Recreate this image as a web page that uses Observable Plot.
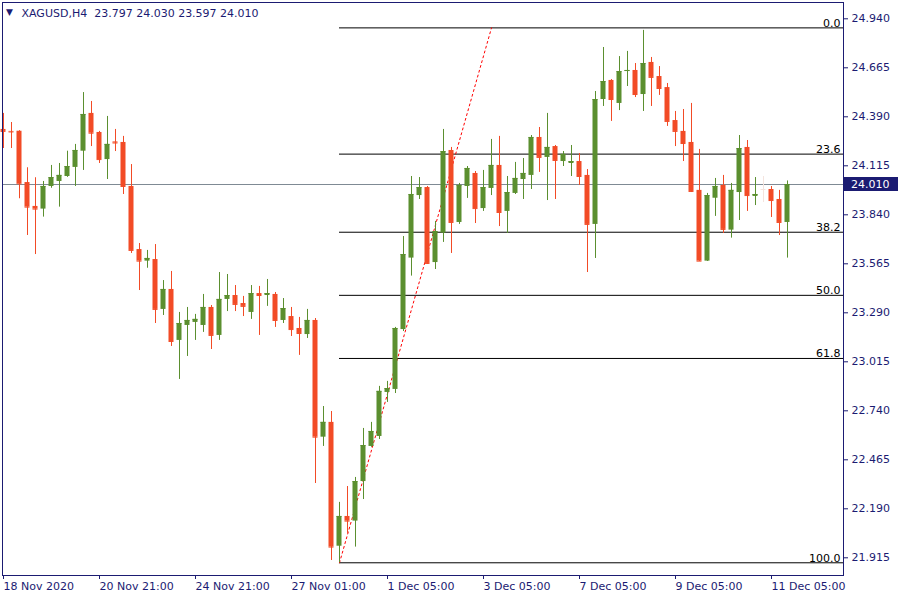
<!DOCTYPE html>
<html>
<head>
<meta charset="utf-8">
<script src="https://cdn.jsdelivr.net/npm/d3@7"></script>
<script src="https://cdn.jsdelivr.net/npm/@observablehq/plot@0.6"></script>
<style>
  html, body { margin: 0; padding: 0; background: #ffffff; }
  #chart svg { display: block; }
</style>
</head>
<body>
<div id="chart"></div>
<script>
// ---------- data ----------
const symbol = "XAGUSD";
const timeframe = "H4";

const opens = [24.319,24.308,24.309,24.021,23.887,23.872,23.999,24.027,24.055,24.106,
  24.197,24.409,24.302,24.150,24.249,24.246,23.999,23.645,23.580,23.589,
  23.309,23.421,23.135,23.219,23.236,23.219,23.320,23.163,23.365,23.387,
  23.342,23.292,23.398,23.387,23.393,23.247,23.269,23.202,23.168,23.247,
  22.592,22.675,21.980,22.147,22.121,22.343,22.540,22.596,22.843,22.860,
  23.196,23.597,23.948,23.993,23.572,23.737,24.201,23.797,23.999,24.072,
  23.875,23.988,24.117,23.859,23.960,24.038,24.061,24.274,24.162,24.223,
  24.139,24.128,24.139,24.061,23.786,24.487,24.594,24.465,24.644,24.650,
  24.515,24.695,24.616,24.554,24.369,24.308,24.246,23.977,23.580,23.933,
  24.005,23.754,23.965,24.218,23.943,23.982,23.982,23.926,23.797];

const highs = [24.409,24.358,24.312,24.104,24.048,24.027,24.117,24.128,24.197,24.235,
  24.526,24.476,24.308,24.392,24.319,24.280,24.122,23.679,23.640,23.673,
  23.471,23.522,23.292,23.320,23.281,23.393,23.331,23.516,23.505,23.443,
  23.382,23.443,23.438,23.477,23.404,23.370,23.320,23.264,23.309,23.258,
  22.764,22.736,22.226,22.315,22.366,22.641,22.675,22.877,22.905,23.208,
  23.718,24.055,24.049,23.999,23.803,24.319,24.218,24.016,24.111,24.083,
  24.089,24.263,24.280,24.055,24.134,24.156,24.285,24.330,24.409,24.229,
  24.195,24.229,24.184,24.094,24.532,24.779,24.599,24.728,24.757,24.689,
  24.875,24.723,24.672,24.577,24.420,24.431,24.465,24.207,23.960,24.044,
  24.061,24.016,24.285,24.257,24.049,24.055,23.999,23.977,24.030];

const lows = [24.212,24.212,23.930,23.724,23.617,23.827,23.989,23.883,24.050,23.999,
  24.089,24.223,24.128,24.038,24.195,23.954,23.623,23.415,23.540,23.230,
  23.275,23.101,22.916,23.045,23.135,23.180,23.084,23.135,23.297,23.297,
  23.269,23.253,23.163,23.326,23.208,23.230,23.157,23.051,23.146,22.332,
  22.540,21.900,21.887,22.052,21.975,22.242,22.535,22.579,22.787,22.837,
  23.185,23.496,23.926,23.561,23.533,23.685,23.623,23.786,23.932,23.791,
  23.859,23.948,23.774,23.735,23.954,23.926,23.982,24.078,23.920,23.926,
  24.111,24.055,24.005,23.516,23.595,24.448,24.364,24.425,24.560,24.498,
  24.420,24.448,24.510,24.336,24.223,24.139,23.965,23.578,23.578,23.831,
  23.735,23.709,23.808,23.859,23.892,23.909,23.825,23.724,23.597];

const closes = [24.308,24.305,24.014,23.883,23.872,23.999,24.049,24.061,24.111,24.201,
  24.403,24.298,24.150,24.235,24.243,23.999,23.640,23.580,23.595,23.309,
  23.421,23.129,23.230,23.247,23.253,23.320,23.163,23.365,23.387,23.337,
  23.326,23.398,23.387,23.398,23.247,23.314,23.196,23.174,23.247,22.592,
  22.675,21.975,22.147,22.121,22.343,22.545,22.624,22.849,22.865,23.202,
  23.617,23.954,23.993,23.567,23.746,24.195,23.797,24.005,24.100,23.875,
  23.993,24.117,23.853,23.965,24.044,24.072,24.274,24.162,24.218,24.145,
  24.179,24.139,24.055,23.786,24.487,24.588,24.487,24.644,24.650,24.515,
  24.689,24.611,24.549,24.364,24.308,24.240,23.971,23.580,23.948,23.999,
  23.758,23.977,24.212,23.948,23.954,23.982,23.920,23.797,24.010];

const ghostBars = [95];

const xTickBars = [0, 12, 24, 36, 48, 60, 72, 84, 96];
const xTickLabels = ["18 Nov 2020", "20 Nov 21:00", "24 Nov 21:00", "27 Nov 01:00",
  "1 Dec 05:00", "3 Dec 05:00", "7 Dec 05:00", "9 Dec 05:00", "11 Dec 05:00"];

const yTicks = [24.940, 24.665, 24.390, 24.115, 23.840, 23.565, 23.290, 23.015,
  22.740, 22.465, 22.190, 21.915];

const fibLevels = [0, 23.6, 38.2, 50, 61.8, 100];
const fibHigh = 24.889;
const fibLow = 21.887;
const fibLowBar = 42;
const fibHighBar = 61;

// ---------- layout / style ----------
const W = 900, H = 600;
const M = {left: 2, top: 2, right: 57, bottom: 25};
const xDomain = [0, 105];
const xRange = [3, W - M.right];
const yDomain = [21.915, 24.940];
const yRange = [557.3, 18.3];
const halfBody = 0.3125;
const navy = "#1b1b72";
const colors = {up: "#5b8f2f", down: "#f24b26", ghost: "#f4e4de"};

const bars = opens.map((o, i) => ({
  i, open: o, high: highs[i], low: lows[i], close: closes[i],
  kind: ghostBars.includes(i) ? "ghost" : (closes[i] >= o ? "up" : "down")
}));
const last = bars[bars.length - 1];
const fib = fibLevels.map(l => ({level: l, price: fibHigh - l / 100 * (fibHigh - fibLow)}));
const fmt = d3.format(".3f");
const title = `${symbol},${timeframe}\u00a0\u00a0${fmt(last.open)} ${fmt(last.high)} ${fmt(last.low)} ${fmt(last.close)}`;

const chart = Plot.plot({
  width: W, height: H,
  marginLeft: M.left, marginTop: M.top, marginRight: M.right, marginBottom: M.bottom,
  style: {fontFamily: "'DejaVu Sans', sans-serif", fontSize: "11px", color: navy, background: "#ffffff"},
  x: {type: "linear", domain: xDomain, range: xRange},
  y: {type: "linear", domain: yDomain, range: yRange},
  marks: [
    Plot.ruleY([last.close], {stroke: "#7f8a94", strokeWidth: 1}),
    Plot.ruleY(fib, {y: "price", x1: fibLowBar, x2: xDomain[1], stroke: "#000000", strokeWidth: 1}),
    Plot.text(fib, {y: "price", text: d => d.level.toFixed(1), frameAnchor: "right",
      textAnchor: "end", lineAnchor: "bottom", dx: -3, dy: -1, fill: "#000000"}),
    Plot.line([{i: fibLowBar, p: fibLow}, {i: fibHighBar, p: fibHigh}],
      {x: "i", y: "p", stroke: "#ff0000", strokeWidth: 1, strokeDasharray: "2,3"}),
    Plot.ruleX(bars, {x: "i", y1: "low", y2: "high", stroke: d => colors[d.kind], strokeWidth: 1}),
    Plot.rect(bars, {x1: d => d.i - halfBody, x2: d => d.i + halfBody, y1: "open", y2: "close",
      fill: d => colors[d.kind]}),
    Plot.ruleY(bars, {y: "close", x1: d => d.i - halfBody, x2: d => d.i + halfBody,
      stroke: d => colors[d.kind], strokeWidth: 1}),
    Plot.frame({stroke: navy}),
    Plot.axisX({ticks: xTickBars, tickFormat: d => xTickLabels[xTickBars.indexOf(d)],
      textAnchor: "start", tickSize: 4, tickPadding: 3, label: null}),
    Plot.axisY({anchor: "right", ticks: yTicks, tickFormat: fmt, tickSize: 4, tickPadding: 4, label: null}),
    Plot.text([title], {text: d => d, frameAnchor: "top-left", dx: 19, dy: 11,
      textAnchor: "start", lineAnchor: "middle", fill: navy}),
    Plot.text(["\u25BC"], {text: d => d, frameAnchor: "top-left", dx: 7, dy: 10,
      textAnchor: "middle", lineAnchor: "middle", fill: navy, fontSize: 9})
  ]
});

// current price tag on the price axis
const yScale = chart.scale("y");
const yy = yScale.apply(last.close);
const svg = d3.select(chart);
const tag = svg.append("g");
tag.append("rect")
  .attr("x", W - M.right + 1).attr("y", Math.round(yy) - 7)
  .attr("width", 54).attr("height", 14).attr("fill", navy);
tag.append("text")
  .attr("x", W - M.right + 8).attr("y", yy).attr("dy", "0.35em")
  .attr("text-anchor", "start")
  .attr("fill", "#ffffff").attr("font-size", 11)
  .text(fmt(last.close));

document.getElementById("chart").append(chart);
</script>
</body>
</html>
